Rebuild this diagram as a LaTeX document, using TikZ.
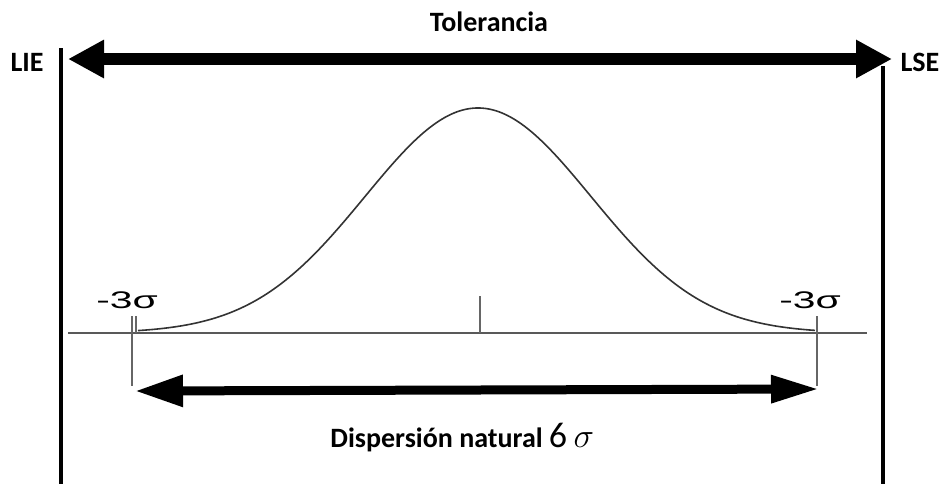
\documentclass[tikz,border=0pt]{standalone}
\usepackage{fontspec}
\setmainfont{Carlito}
\newfontfamily\sigfont{Liberation Sans}
\usetikzlibrary{arrows.meta, positioning}

\begin{document}
\begin{tikzpicture}[
    x=0.5pt, y=-0.5pt,
    lbl/.style={font=\fontsize{14}{14}\selectfont\bfseries, inner sep=0pt},
    siglbl/.style={font=\sigfont\fontsize{12}{12}\selectfont, inner sep=0pt, xscale=1.7, transform shape},
    limit/.style={line width=2pt},
    bigar/.style={{Triangle[length=18pt, width=18pt]}-{Triangle[length=18pt, width=18pt]}, line width=6pt},
    smallar/.style={{Triangle[length=24pt, width=15pt]}-{Triangle[length=24pt, width=13pt]}, line width=4.5pt},
    tick/.style={gray!80!black, line width=0.8pt}
]
\useasboundingbox (0,0) rectangle (943,484);
% limits of the tolerance
\coordinate (lieTop) at (61,48);
\coordinate (lieBot) at (61,484);
\coordinate (lseTop) at (883,66);
\coordinate (lseBot) at (883,484);
\draw[limit] (lieTop) -- (lieBot);
\draw[limit] (lseTop) -- (lseBot);
\node[lbl] (lie) at (27,62) {LIE};
\node[lbl] (lse) at (920,62) {LSE};
% tolerance arrow
\coordinate (tolL) at (68,59);
\coordinate (tolR) at (892,59);
\draw[bigar] (tolL) -- (tolR);
\node[lbl, anchor=base] (tol) at (489,31) {Tolerancia};
% axis and bell curve
\coordinate (axL) at (68,333);
\coordinate (axR) at (867,333);
\draw[gray!70!black, line width=1pt] (axL) -- (axR);
\draw[line width=0.8pt, black!80, domain=138:815, samples=120, smooth]
    plot ({\x},{333-225*exp(-0.5*((\x-478)/113)^2)});
\coordinate (midTop) at (480,296);
\coordinate (midBot) at (480,333);
\draw[tick] (midTop) -- (midBot);
% -3 sigma marks
\coordinate (lTop) at (132,316);
\coordinate (lBot) at (132,386);
\coordinate (rTop) at (817,316);
\coordinate (rBot) at (817,386);
\draw[tick] (lTop) -- (lBot);
\draw[tick] ([xshift=2pt]lTop) -- ([xshift=2pt]lTop |- axL);
\draw[tick] (rTop) -- (rBot);
\node[siglbl] (sigL) at (127,300) {-3σ};
\node[siglbl] (sigR) at (810,300) {-3σ};
% natural spread arrow
\coordinate (dispL) at (135,391);
\coordinate (dispR) at (819,389);
\draw[smallar] (dispL) -- (dispR);
\node[lbl, anchor=base west] (disp) at (330,447)
    {Dispersión natural {\mdseries\fontsize{18}{18}\selectfont 6} {\fontsize{19}{19}\selectfont$\sigma$}};
\end{tikzpicture}
\end{document}
